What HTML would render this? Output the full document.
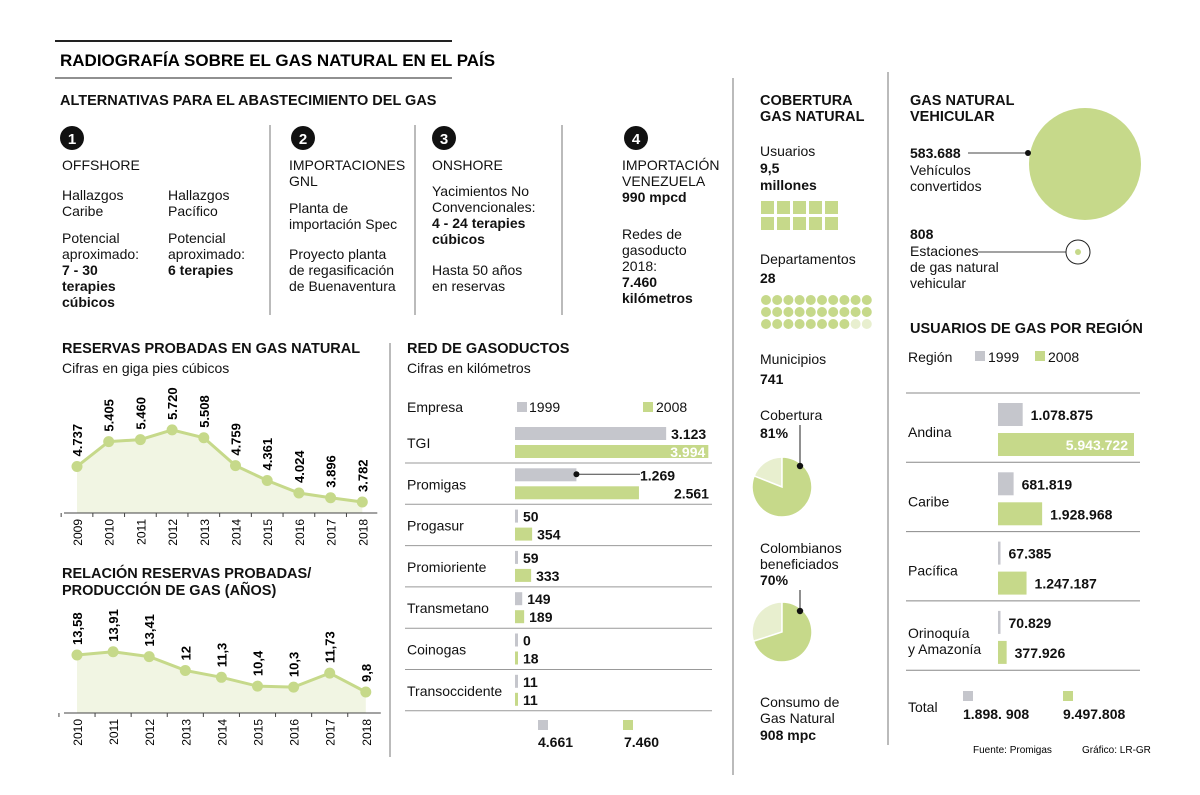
<!DOCTYPE html>
<html><head><meta charset="utf-8"><style>
html,body{margin:0;padding:0;background:#fff;}
svg{display:block;font-family:"Liberation Sans",sans-serif;}
.t{font-size:14px;fill:#111;}
.b{font-size:14px;font-weight:bold;fill:#111;}
.h{font-size:14.5px;font-weight:bold;fill:#111;}
</style></head><body>
<svg id="s" width="1200" height="795" viewBox="0 0 1200 795">
<line x1="55" y1="41" x2="452" y2="41" stroke="#222" stroke-width="2"/>
<text x="60" y="66" style="font-size:17px;font-weight:bold">RADIOGRAFÍA SOBRE EL GAS NATURAL EN EL PAÍS</text>
<line x1="55" y1="78" x2="452" y2="78" stroke="#222" stroke-width="1"/>
<g stroke="#777" stroke-width="1">
<line x1="270" y1="125" x2="270" y2="315"/><line x1="415" y1="125" x2="415" y2="315"/><line x1="562" y1="125" x2="562" y2="315"/>
<line x1="733" y1="78" x2="733" y2="775"/><line x1="888" y1="72" x2="888" y2="745"/><line x1="390" y1="343" x2="390" y2="757"/>
</g>
<text class="h" x="60" y="105">ALTERNATIVAS PARA EL ABASTECIMIENTO DEL GAS</text>
<g>
<circle cx="72" cy="138" r="12" fill="#111"/><text x="72" y="144" text-anchor="middle" fill="#fff" style="font-size:15px;font-weight:bold">1</text>
<circle cx="303" cy="138" r="12" fill="#111"/><text x="303" y="144" text-anchor="middle" fill="#fff" style="font-size:15px;font-weight:bold">2</text>
<circle cx="444" cy="138" r="12" fill="#111"/><text x="444" y="144" text-anchor="middle" fill="#fff" style="font-size:15px;font-weight:bold">3</text>
<circle cx="636" cy="138" r="12" fill="#111"/><text x="636" y="144" text-anchor="middle" fill="#fff" style="font-size:15px;font-weight:bold">4</text>
</g>
<g>
<text class="t" x="62" y="170">OFFSHORE</text>
<text class="t" x="62" y="200">Hallazgos</text><text class="t" x="62" y="216">Caribe</text>
<text class="t" x="168" y="200">Hallazgos</text><text class="t" x="168" y="216">Pacífico</text>
<text class="t" x="62" y="243">Potencial</text><text class="t" x="62" y="259">aproximado:</text>
<text class="b" x="62" y="275">7 - 30</text><text class="b" x="62" y="291">terapies</text><text class="b" x="62" y="307">cúbicos</text>
<text class="t" x="168" y="243">Potencial</text><text class="t" x="168" y="259">aproximado:</text><text class="b" x="168" y="275">6 terapies</text>
</g>
<g>
<text class="t" x="289" y="170">IMPORTACIONES</text><text class="t" x="289" y="186">GNL</text>
<text class="t" x="289" y="213">Planta de</text><text class="t" x="289" y="229">importación Spec</text>
<text class="t" x="289" y="259">Proyecto planta</text><text class="t" x="289" y="275">de regasificación</text><text class="t" x="289" y="291">de Buenaventura</text>
</g>
<g>
<text class="t" x="432" y="170">ONSHORE</text>
<text class="t" x="432" y="196">Yacimientos No</text><text class="t" x="432" y="212">Convencionales:</text>
<text class="b" x="432" y="228">4 - 24 terapies</text><text class="b" x="432" y="244">cúbicos</text>
<text class="t" x="432" y="275">Hasta 50 años</text><text class="t" x="432" y="291">en reservas</text>
</g>
<g>
<text class="t" x="622" y="170">IMPORTACIÓN</text><text class="t" x="622" y="186">VENEZUELA</text><text class="b" x="622" y="202">990 mpcd</text>
<text class="t" x="622" y="239">Redes de</text><text class="t" x="622" y="255">gasoducto</text><text class="t" x="622" y="271">2018:</text>
<text class="b" x="622" y="287">7.460</text><text class="b" x="622" y="303">kilómetros</text>
</g>
<text class="h" x="62" y="353">RESERVAS PROBADAS EN GAS NATURAL</text>
<text class="t" x="62" y="373">Cifras en giga pies cúbicos</text>
<text class="h" x="62" y="578">RELACIÓN RESERVAS PROBADAS/</text>
<text class="h" x="62" y="595">PRODUCCIÓN DE GAS (AÑOS)</text>
<g id="lc1"></g>
<g id="lc2"></g>
<text class="h" x="407" y="353">RED DE GASODUCTOS</text>
<text class="t" x="407" y="373">Cifras en kilómetros</text>
<g>
<text class="t" x="407" y="412">Empresa</text>
<rect x="517" y="402" width="10" height="10" fill="#c5c6cc"/><text class="t" x="529" y="412">1999</text>
<rect x="643" y="402" width="10" height="10" fill="#c6d98a"/><text class="t" x="656" y="412">2008</text>
</g>
<g id="bc"></g>
<g>
<rect x="538" y="720" width="10" height="10" fill="#c5c6cc"/><rect x="623" y="720" width="10" height="10" fill="#c6d98a"/>
<text class="b" x="538" y="747">4.661</text><text class="b" x="624" y="747">7.460</text>
</g>
<g>
<text class="h" x="760" y="105">COBERTURA</text><text class="h" x="760" y="121">GAS NATURAL</text>
<text class="t" x="760" y="156">Usuarios</text><text class="b" x="760" y="173">9,5</text><text class="b" x="760" y="190">millones</text>
<text class="t" x="760" y="264">Departamentos</text><text class="b" x="760" y="283">28</text>
<text class="t" x="760" y="364">Municipios</text><text class="b" x="760" y="384">741</text>
<text class="t" x="760" y="420">Cobertura</text><text class="b" x="760" y="438">81%</text>
<text class="t" x="760" y="553">Colombianos</text><text class="t" x="760" y="569">beneficiados</text><text class="b" x="760" y="585">70%</text>
<text class="t" x="760" y="707">Consumo de</text><text class="t" x="760" y="723">Gas Natural</text><text class="b" x="760" y="740">908 mpc</text>
</g>
<g id="cov"></g>
<g>
<text class="h" x="910" y="105">GAS NATURAL</text><text class="h" x="910" y="121">VEHICULAR</text>
<circle cx="1085" cy="164" r="56" fill="#c6d98a"/>
<text class="b" x="910" y="158">583.688</text><text class="t" x="910" y="175">Vehículos</text><text class="t" x="910" y="191">convertidos</text>
<line x1="968" y1="153" x2="1028" y2="153" stroke="#444"/><circle cx="1028" cy="153" r="3" fill="#111"/>
<text class="b" x="910" y="239">808</text><text class="t" x="910" y="256">Estaciones</text><text class="t" x="910" y="272">de gas natural</text><text class="t" x="910" y="288">vehicular</text>
<line x1="978" y1="252" x2="1066" y2="252" stroke="#444"/>
<circle cx="1078" cy="252" r="12" fill="#fff" stroke="#222"/><circle cx="1078" cy="252" r="3" fill="#c6d98a"/>
</g>
<text class="h" x="910" y="333">USUARIOS DE GAS POR REGIÓN</text>
<g>
<text class="t" x="908" y="362">Región</text>
<rect x="975" y="351" width="10" height="10" fill="#c5c6cc"/><text class="t" x="988" y="362">1999</text>
<rect x="1035" y="351" width="10" height="10" fill="#c6d98a"/><text class="t" x="1048" y="362">2008</text>
</g>
<g id="rc"></g>
<g>
<text class="t" x="908" y="712">Total</text>
<rect x="963" y="691" width="10" height="10" fill="#c5c6cc"/><rect x="1063" y="691" width="10" height="10" fill="#c6d98a"/>
<text class="b" x="963" y="719">1.898. 908</text><text class="b" x="1063" y="719">9.497.808</text>
</g>
<text x="973" y="753" style="font-size:10px">Fuente: Promigas</text>
<text x="1082" y="753" style="font-size:10px">Gráfico: LR-GR</text>
</svg>
<script>
const NS="http://www.w3.org/2000/svg";
const reserveYears=["2009","2010","2011","2012","2013","2014","2015","2016","2017","2018"];
const reserveValues=[4737,5405,5460,5720,5508,4759,4361,4024,3896,3782];
const reserveLabels=["4.737","5.405","5.460","5.720","5.508","4.759","4.361","4.024","3.896","3.782"];
const ratioYears=["2010","2011","2012","2013","2014","2015","2016","2017","2018"];
const ratioValues=[13.58,13.91,13.41,12,11.3,10.4,10.3,11.73,9.8];
const ratioLabels=["13,58","13,91","13,41","12","11,3","10,4","10,3","11,73","9,8"];
const companies=["TGI","Promigas","Progasur","Promioriente","Transmetano","Coinogas","Transoccidente"];
const km1999=[3123,1269,50,59,149,0,11];
const km2008=[3994,2561,354,333,189,18,11];
const km1999Labels=["3.123","1.269","50","59","149","0","11"];
const km2008Labels=["3.994","2.561","354","333","189","18","11"];
const regions=[["Andina"],["Caribe"],["Pacífica"],["Orinoquía","y Amazonía"]];
const users1999=[1078875,681819,67385,70829];
const users2008=[5943722,1928968,1247187,377926];
const users1999Labels=["1.078.875","681.819","67.385","70.829"];
const users2008Labels=["5.943.722","1.928.968","1.247.187","377.926"];
const coveragePct=[81,70];
const GREEN="#c6d98a",GRAY="#c5c6cc",LIGHT="#e8efcf";
function mk(tag,attrs,parent,txt){const e=document.createElementNS(NS,tag);for(const k in attrs)e.setAttribute(k,attrs[k]);if(txt!==undefined)e.textContent=txt;parent.appendChild(e);return e;}

function lineChart(g,years,vals,labels,x0,dx,yAt,axisY){
  const xs=years.map((_,i)=>x0+i*dx);
  let d="M"+xs[0]+","+axisY;vals.forEach((v,i)=>d+=" L"+xs[i]+","+yAt(v));d+=" L"+xs[xs.length-1]+","+axisY+"Z";
  const a=mk("path",{d:d,fill:"#f1f5e3"},g);
  
  mk("line",{x1:x0-13,y1:axisY,x2:xs[xs.length-1]+15,y2:axisY,stroke:"#444"},g);
  let l="";vals.forEach((v,i)=>l+=(i?" L":"M")+xs[i]+","+yAt(v));
  const p=mk("path",{d:l,fill:"none",stroke:GREEN,"stroke-width":3},g);
  
  vals.forEach((v,i)=>{
    const c=mk("circle",{cx:xs[i],cy:yAt(v),r:5.5,fill:GREEN},g);
    
    
    const t=mk("text",{transform:`translate(${xs[i]+5},${yAt(v)-10}) rotate(-90)`,style:"font-size:13px;font-weight:bold"},g,labels[i]);
    
    
    const y=mk("text",{transform:`translate(${xs[i]+5},${axisY+6}) rotate(-90)`,"text-anchor":"end",style:"font-size:12px"},g,years[i]);
    
    
    mk("line",{x1:xs[i]-dx/2,y1:axisY,x2:xs[i]-dx/2,y2:axisY+4,stroke:"#444"},g);
  });
}
lineChart(document.getElementById("lc1"),reserveYears,reserveValues,reserveLabels,77,31.7,v=>502-(v-3782)*0.0372,513);
lineChart(document.getElementById("lc2"),ratioYears,ratioValues,ratioLabels,77,36.1,v=>692-(v-9.8)*9.8,713);

(function(){
  const g=document.getElementById("bc");const sx=v=>Math.max(3,v*0.0484);
  companies.forEach((c,i)=>{
    const top=422+i*41.3;
    const n=mk("text",{x:407,y:top+26,class:"t"},g,c);
    
    
    const b1=mk("rect",{x:515,y:top+5,width:sx(km1999[i]),height:13,fill:GRAY},g);
    
    
    const b2=mk("rect",{x:515,y:top+23,width:sx(km2008[i]),height:13,fill:GREEN},g);
    
    
    if(i===1){const e=515+sx(km1999[i]);mk("line",{x1:e,y1:top+11,x2:640,y2:top+11,stroke:"#444"},g);mk("circle",{cx:e,cy:top+11,r:3,fill:"#111"},g);
      mk("text",{x:640,y:top+17,class:"b"},g,km1999Labels[i]);}
    else mk("text",{x:515+sx(km1999[i])+5,y:top+17,class:"b"},g,km1999Labels[i]);
    if(i===0) mk("text",{x:515+sx(km2008[i])-3,y:top+35,class:"b","text-anchor":"end",style:"fill:#fff"},g,km2008Labels[i]);
    else mk("text",{x:515+sx(km2008[i])+(i===1?35:5),y:top+35,class:"b"},g,km2008Labels[i]);
    mk("line",{x1:405,y1:top+41,x2:712,y2:top+41,stroke:"#999"},g);
  });
})();

(function(){
  const g=document.getElementById("cov");
  for(let r=0;r<2;r++)for(let c=0;c<5;c++){mk("rect",{x:761+c*16,y:201+r*16,width:13,height:13,fill:GREEN},g);}
  for(let k=0;k<30;k++){const r=Math.floor(k/10),c=k%10;mk("circle",{cx:766+c*11.2,cy:300+r*12,r:5,fill:k<28?GREEN:LIGHT},g);}
  [[782,487,425],[782,632,590]].forEach((ctr,i)=>{
    const [cx,cy,ly]=ctr,R=30,p=coveragePct[i]/100;
    const a=2*Math.PI*p,ex=cx+R*Math.sin(a),ey=cy-R*Math.cos(a);
    const l=mk("path",{d:`M${cx},${cy} L${ex},${ey} A${R},${R} 0 ${p>0.5?0:1} 1 ${cx},${cy-R} Z`,fill:LIGHT,stroke:"#fff","stroke-width":1.5},g);
    
    
    const s=mk("path",{d:`M${cx},${cy} L${cx},${cy-R} A${R},${R} 0 ${p>0.5?1:0} 1 ${ex},${ey} Z`,fill:GREEN,stroke:"#fff","stroke-width":1.5},g);
    
    
    mk("line",{x1:cx+18,y1:ly,x2:cx+18,y2:cy-R+9,stroke:"#222"},g);
    mk("circle",{cx:cx+18,cy:cy-R+9,r:3.2,fill:"#111"},g);
  });
})();

(function(){
  const g=document.getElementById("rc");const sx=v=>Math.max(2.5,v*136/5943722);
  mk("line",{x1:906,y1:393,x2:1140,y2:393,stroke:"#888"},g);
  regions.forEach((r,i)=>{
    const top=393+i*69.3;
    r.forEach((ln,j)=>{const t=mk("text",{x:908,y:top+(r.length>1?37+j*16:44),class:"t"},g,ln);});
    const b1=mk("rect",{x:998,y:top+10,width:sx(users1999[i]),height:23,fill:GRAY},g);
    
    
    const b2=mk("rect",{x:998,y:top+40,width:sx(users2008[i]),height:23,fill:GREEN},g);
    
    
    mk("text",{x:998+sx(users1999[i])+8,y:top+27,class:"b"},g,users1999Labels[i]);
    if(i===0) mk("text",{x:998+sx(users2008[i])-6,y:top+57,class:"b","text-anchor":"end",style:"fill:#fff"},g,users2008Labels[i]);
    else mk("text",{x:998+sx(users2008[i])+8,y:top+57,class:"b"},g,users2008Labels[i]);
    mk("line",{x1:906,y1:top+69.3,x2:1140,y2:top+69.3,stroke:"#888"},g);
  });
})();
</script>
</body></html>
